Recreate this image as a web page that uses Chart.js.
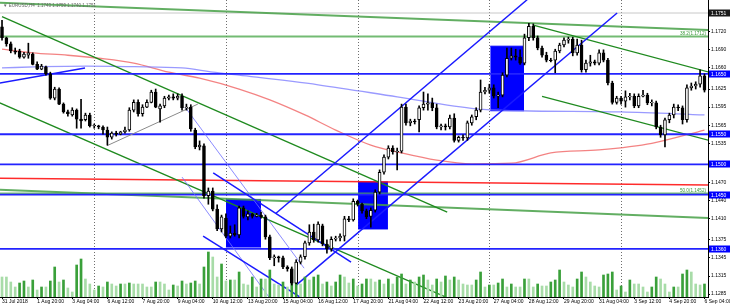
<!DOCTYPE html>
<html>
<head>
<meta charset="utf-8">
<script src="https://cdn.jsdelivr.net/npm/chart.js@4.4.0/dist/chart.umd.min.js"></script>
<style>
  html, body { margin: 0; padding: 0; background: #fff; }
</style>
</head>
<body>
<canvas id="chart" width="730" height="306"></canvas>
<script>
// EURUSD H4, 31 Jul 2018 12:00 -> 6 Sep 2018 04:00 (bar index 0..160)
const timeLabels = ["31 Jul 2018", "1 Aug 20:00", "3 Aug 04:00", "6 Aug 12:00", "7 Aug 20:00",
  "9 Aug 04:00", "10 Aug 12:00", "13 Aug 20:00", "15 Aug 04:00", "16 Aug 12:00", "17 Aug 20:00",
  "21 Aug 04:00", "22 Aug 12:00", "23 Aug 20:00", "27 Aug 04:00", "28 Aug 12:00", "29 Aug 20:00",
  "31 Aug 04:00", "3 Sep 12:00", "4 Sep 20:00", "6 Sep 04:00"];
const labelStep = 8;

const opens = [1.1728,1.1710,1.1700,1.1688,1.1688,1.1678,1.1681,1.1683,1.1666,1.1658,
  1.1662,1.1650,1.1610,1.1625,1.1600,1.1587,1.1582,1.1590,1.1575,1.1574,
  1.1582,1.1564,1.1564,1.1562,1.1557,1.1545,1.1552,1.1550,1.1554,1.1557,
  1.1590,1.1603,1.1584,1.1595,1.1603,1.1620,1.1592,1.1597,1.1610,1.1612,
  1.1610,1.1613,1.1594,1.1595,1.1557,1.1529,1.1531,1.1448,1.1456,1.1426,
  1.1393,1.1411,1.1381,1.1386,1.1383,1.1428,1.1413,1.1418,1.1414,1.1416,
  1.1413,1.1380,1.1345,1.1347,1.1345,1.1330,1.1327,1.1303,1.1338,1.1347,
  1.1370,1.1388,1.1375,1.1398,1.1368,1.1360,1.1376,1.1378,1.1381,1.1410,
  1.1408,1.1439,1.1434,1.1423,1.1414,1.1424,1.1454,1.1487,1.1512,1.1527,
  1.1521,1.1522,1.1595,1.1569,1.1572,1.1574,1.1594,1.1600,1.1602,1.1594,
  1.1562,1.1564,1.1562,1.1577,1.1540,1.1545,1.1544,1.1569,1.1579,1.1590,
  1.1620,1.1623,1.1627,1.1613,1.1615,1.1648,1.1676,1.1680,1.1678,1.1668,
  1.1710,1.1729,1.1710,1.1693,1.1681,1.1673,1.1673,1.1688,1.1698,1.1706,
  1.1708,1.1685,1.1698,1.1657,1.1668,1.1670,1.1668,1.1685,1.1673,1.1635,
  1.1603,1.1610,1.1605,1.1612,1.1613,1.1597,1.1613,1.1615,1.1602,1.1602,
  1.1562,1.1549,1.1574,1.1582,1.1595,1.1594,1.1574,1.1627,1.1630,1.1633,
  1.1647];
const highs = [1.1739,1.1711,1.1703,1.1693,1.1691,1.1686,1.1701,1.1685,1.1670,1.1666,
  1.1663,1.1653,1.1628,1.1627,1.1602,1.1590,1.1594,1.1592,1.1608,1.1585,
  1.1585,1.1567,1.1565,1.1564,1.1562,1.1554,1.1555,1.1555,1.1562,1.1594,
  1.1607,1.1607,1.1599,1.1607,1.1623,1.1625,1.1600,1.1613,1.1615,1.1617,
  1.1617,1.1617,1.1600,1.1599,1.1560,1.1539,1.1534,1.1461,1.1461,1.1433,
  1.1416,1.1418,1.1398,1.1400,1.1431,1.1431,1.1423,1.1419,1.1419,1.1421,
  1.1416,1.1383,1.1350,1.1348,1.1348,1.1332,1.1330,1.1342,1.1350,1.1373,
  1.1400,1.1401,1.1405,1.1401,1.1375,1.1380,1.1381,1.1385,1.1414,1.1414,
  1.1443,1.1441,1.1436,1.1426,1.1428,1.1458,1.1491,1.1516,1.1531,1.1531,
  1.1527,1.1600,1.1600,1.1575,1.1575,1.1597,1.1620,1.1617,1.1610,1.1600,
  1.1567,1.1567,1.1582,1.1584,1.1547,1.1549,1.1572,1.1582,1.1594,1.1640,
  1.1628,1.1633,1.1632,1.1620,1.1652,1.1693,1.1693,1.1691,1.1690,1.1716,
  1.1734,1.1733,1.1713,1.1696,1.1686,1.1676,1.1691,1.1701,1.1710,1.1711,
  1.1711,1.1708,1.1706,1.1673,1.1681,1.1673,1.1690,1.1690,1.1676,1.1638,
  1.1613,1.1613,1.1622,1.1618,1.1617,1.1617,1.1623,1.1618,1.1607,1.1605,
  1.1565,1.1577,1.1585,1.1600,1.1599,1.1597,1.1632,1.1635,1.1637,1.1657,
  1.1650];
const lows = [1.1706,1.1696,1.1685,1.1683,1.1676,1.1676,1.1676,1.1665,1.1657,1.1657,
  1.1648,1.1608,1.1607,1.1599,1.1585,1.1580,1.1580,1.1560,1.1560,1.1572,
  1.1562,1.1560,1.1559,1.1550,1.1532,1.1542,1.1547,1.1549,1.1552,1.1555,
  1.1587,1.1580,1.1580,1.1594,1.1602,1.1594,1.1570,1.1594,1.1607,1.1607,
  1.1607,1.1590,1.1590,1.1555,1.1526,1.1524,1.1444,1.1434,1.1423,1.1390,
  1.1388,1.1378,1.1378,1.1381,1.1378,1.1411,1.1408,1.1411,1.1413,1.1411,
  1.1376,1.1342,1.1332,1.1338,1.1327,1.1323,1.1300,1.1302,1.1335,1.1343,
  1.1366,1.1371,1.1371,1.1365,1.1353,1.1356,1.1373,1.1373,1.1373,1.1405,
  1.1406,1.1431,1.1419,1.1410,1.1396,1.1421,1.1451,1.1484,1.1509,1.1517,
  1.1491,1.1519,1.1565,1.1564,1.1567,1.1554,1.1590,1.1590,1.1589,1.1559,
  1.1557,1.1557,1.1559,1.1537,1.1537,1.1540,1.1540,1.1565,1.1574,1.1587,
  1.1617,1.1618,1.1610,1.1594,1.1612,1.1645,1.1673,1.1673,1.1666,1.1665,
  1.1705,1.1706,1.1690,1.1678,1.1670,1.1670,1.1652,1.1685,1.1695,1.1701,
  1.1680,1.1681,1.1653,1.1653,1.1663,1.1665,1.1665,1.1670,1.1632,1.1600,
  1.1600,1.1600,1.1595,1.1607,1.1594,1.1594,1.1612,1.1599,1.1597,1.1559,
  1.1545,1.1529,1.1569,1.1577,1.1589,1.1567,1.1570,1.1623,1.1625,1.1628,
  1.1620];
const closes = [1.1710,1.1700,1.1688,1.1686,1.1678,1.1683,1.1685,1.1666,1.1658,1.1663,
  1.1650,1.1610,1.1625,1.1600,1.1587,1.1584,1.1590,1.1575,1.1572,1.1582,
  1.1564,1.1565,1.1562,1.1557,1.1545,1.1552,1.1550,1.1554,1.1557,1.1590,
  1.1603,1.1584,1.1595,1.1603,1.1620,1.1595,1.1597,1.1610,1.1612,1.1610,
  1.1613,1.1594,1.1595,1.1559,1.1529,1.1532,1.1448,1.1456,1.1426,1.1393,
  1.1413,1.1381,1.1386,1.1383,1.1428,1.1414,1.1418,1.1414,1.1416,1.1413,
  1.1380,1.1345,1.1347,1.1345,1.1330,1.1327,1.1303,1.1338,1.1347,1.1370,
  1.1388,1.1375,1.1401,1.1368,1.1360,1.1376,1.1378,1.1381,1.1410,1.1408,
  1.1439,1.1434,1.1423,1.1413,1.1424,1.1454,1.1487,1.1512,1.1527,1.1521,
  1.1522,1.1595,1.1569,1.1572,1.1571,1.1594,1.1600,1.1602,1.1594,1.1562,
  1.1564,1.1562,1.1577,1.1540,1.1545,1.1544,1.1569,1.1579,1.1590,1.1620,
  1.1623,1.1627,1.1613,1.1615,1.1648,1.1676,1.1680,1.1678,1.1668,1.1710,
  1.1729,1.1710,1.1693,1.1681,1.1673,1.1672,1.1688,1.1698,1.1706,1.1708,
  1.1685,1.1698,1.1657,1.1668,1.1670,1.1668,1.1685,1.1673,1.1635,1.1603,
  1.1610,1.1605,1.1612,1.1613,1.1597,1.1613,1.1615,1.1602,1.1603,1.1562,
  1.1549,1.1574,1.1582,1.1595,1.1594,1.1574,1.1627,1.1630,1.1633,1.1647,
  1.1623];
const volumes = [8000,8000,6000,4000,5600,6400,4000,6800,2800,4000,
  4000,6400,12000,6000,6800,3600,2000,12800,15200,7200,
  5200,2800,4400,4000,6000,5200,4400,5200,5200,5600,
  5200,5200,5200,4000,4000,6000,6000,5200,2800,4800,
  4400,6400,5200,5600,6400,5200,12000,18000,16000,8000,
  13200,6400,6800,6800,10000,5200,4800,8000,4000,7200,
  7200,10800,5200,4800,6000,4000,8000,10800,5200,8000,
  6800,8000,8800,5200,6000,4400,6000,8800,8000,5600,
  7200,4400,5200,7200,7200,6000,6800,5200,7200,5200,
  8000,9200,5200,6800,6000,8000,8800,6800,4800,7200,
  6000,8400,6800,8000,6800,5200,4800,4800,6800,10000,
  4000,4800,4800,5600,7200,4000,5200,4000,4000,7200,
  7200,4000,5200,4400,4400,6000,6800,10800,6000,4800,
  4000,7200,10000,8000,6000,4400,4000,8800,9200,10000,
  2800,4400,2000,6800,5200,5200,4000,2000,4000,8000,
  7200,5200,2000,4000,4000,9200,10800,10000,5200,4800,
  5200];

// price axis
const yTicks = [1.1720, 1.1690, 1.1660, 1.1625, 1.1595, 1.1565, 1.1535, 1.1470,
  1.1440, 1.1410, 1.1375, 1.1345, 1.1315, 1.1285];
const bidPrice = 1.1751;
const levels = [1.1650, 1.1550, 1.1500, 1.1450, 1.1360];
const fiboLevels = [1.1712, 1.1452];
const fiboTexts = ["38.2(1.1712)", "50.0(1.1452)"];
const weekStarts = [21, 51, 81, 111, 141];
const title = "\u25BC EURUSD,H4  1.1743 1.1759 1.1740 1.1751";

// moving averages, read at selected bars
const maRed = [[0,1.1691],[7,1.1685],[15,1.1681],[22,1.1676],[30,1.1668],[38,1.1653],
  [45,1.1643],[54,1.1625],[61,1.1607],[69,1.1582],[76,1.1557],[84,1.1532],[91,1.1519],
  [99,1.1507],[107,1.1501],[116,1.1502],[125,1.1519],[136,1.1524],[148,1.1535],[160,1.1557]];
const maBlue = [[0,1.1660],[9,1.1662],[19,1.1663],[30,1.1662],[41,1.1660],[48,1.1653],
  [54,1.1648],[72,1.1632],[90,1.1612],[108,1.1592],[118,1.1589],[141,1.1587],[160,1.1582]];

// drawn objects, endpoints as [bar, price]
const greenWide = [
  [[-0.5,1.1768],[161,1.1723]],
  [[-0.5,1.1458],[161,1.1411]]
];
const greenThin = [
  [[0,1.1745],[101.4,1.1421]],
  [[-0.5,1.1602],[101.1,1.1280]],
  [[121,1.1731],[161,1.1653]],
  [[123,1.1613],[161,1.1540]]
];
const redLine = [[-0.5,1.1477],[161,1.1466]];
const blueLines = [
  [[-0.5,1.1635],[18.9,1.1660]],
  [[62.4,1.1419],[119.6,1.1773]],
  [[67,1.1300],[140.1,1.1751]],
  [[48.1,1.1486],[79.5,1.1338]],
  [[45.8,1.1381],[67.9,1.1280]]
];
const lightBlueLines = [
  [[41.7,1.1595],[68.8,1.1328]],
  [[41,1.1479],[60.8,1.1280]]
];
const greyLine = [[23.9,1.1531],[44.6,1.1600]];
// rectangles: [barFrom, barTo, priceLow, priceHigh]
const boxes = [[51, 59, 1.1363, 1.1442], [81.1, 87.9, 1.1393, 1.1471], [111.2, 118.9, 1.1589, 1.1696]];

const X_MIN = -0.46, X_MAX = 160.8;
const Y_MIN = 1.12802, Y_MAX = 1.17726;
const FONT = "Liberation Sans, Arial, sans-serif";

function seg(points, color, width, order, extra) {
  return Object.assign({
    type: "line",
    data: points.map(([x, y]) => ({ x, y })),
    borderColor: color,
    borderWidth: width,
    pointRadius: 0,
    fill: false,
    tension: 0,
    order: order,
    yAxisID: "y",
  }, extra || {});
}

const datasets = [];

// rectangles (fill between top and bottom edge)
boxes.forEach(([x0, x1, lo, hi]) => {
  datasets.push(seg([[x0, hi], [x1, hi]], "#0000ff", 1, 200, { fill: "+1", backgroundColor: "#0000ff" }));
  datasets.push(seg([[x0, lo], [x1, lo]], "#0000ff", 1, 199));
});

datasets.push(seg([[X_MIN, bidPrice], [X_MAX, bidPrice]], "#c8c8c8", 1, 150));
datasets.push(seg(maBlue, "rgba(120,120,255,0.75)", 1.3, 140, { cubicInterpolationMode: "monotone" }));
datasets.push(seg(maRed, "rgba(240,100,100,0.8)", 1.3, 140, { cubicInterpolationMode: "monotone" }));
datasets.push(seg(redLine, "rgba(255,20,20,0.9)", 1.5, 130));
fiboLevels.forEach(v => datasets.push(seg([[X_MIN, v], [X_MAX, v]], "rgba(80,170,80,0.8)", 2, 130)));
greenWide.forEach(l => datasets.push(seg(l, "rgba(70,160,70,0.85)", 2, 130)));
greenThin.forEach(l => datasets.push(seg(l, "#1f8a1f", 1.3, 125)));
levels.forEach(v => datasets.push(seg([[X_MIN, v], [X_MAX, v]], "#2323ff", 1.8, 120)));
blueLines.forEach(l => datasets.push(seg(l, "#1a1aff", 1.5, 118)));
lightBlueLines.forEach(l => datasets.push(seg(l, "rgba(110,110,255,0.8)", 1, 118)));
datasets.push(seg(greyLine, "#8a8a8a", 1, 118));

// volumes
datasets.push({
  type: "bar",
  yAxisID: "yv",
  data: volumes.map((v, i) => ({ x: i, y: v })),
  backgroundColor: volumes.map((v, i) => (i > 0 && v > volumes[i - 1]) ? "#3aa03a" : "#a8dca8"),
  barThickness: 2,
  grouped: false,
  order: 110,
});

// candle wicks and bodies
datasets.push({
  type: "bar",
  yAxisID: "y",
  data: closes.map((c, i) => ({ x: i, y: [lows[i], highs[i]] })),
  backgroundColor: "#000",
  barThickness: 1,
  grouped: false,
  order: 20,
});
datasets.push({
  type: "bar",
  yAxisID: "y",
  data: closes.map((c, i) => ({ x: i, y: [opens[i], c] })),
  backgroundColor: closes.map((c, i) => c >= opens[i] ? "#ffffff" : "#000000"),
  borderColor: "#000",
  borderWidth: 1,
  borderSkipped: false,
  barThickness: 3,
  grouped: false,
  order: 10,
});

// separators, title, price boxes, fibo texts
const overlay = {
  id: "overlay",
  beforeDatasetsDraw(chart) {
    const { ctx, chartArea, scales } = chart;
    ctx.save();
    ctx.strokeStyle = "#6e6e6e";
    ctx.lineWidth = 1;
    ctx.setLineDash([1, 2]);
    weekStarts.forEach(b => {
      const px = Math.round(scales.x.getPixelForValue(b)) + 0.5;
      ctx.beginPath();
      ctx.moveTo(px, chartArea.top);
      ctx.lineTo(px, chartArea.bottom);
      ctx.stroke();
    });
    ctx.restore();
  },
  afterDraw(chart) {
    const { ctx, chartArea, scales } = chart;
    const y = scales.y;
    ctx.save();
    ctx.font = "4.6px " + FONT;
    ctx.fillStyle = "#3a9a3a";
    ctx.textAlign = "right";
    ctx.textBaseline = "alphabetic";
    fiboLevels.forEach((v, k) => {
      ctx.fillText(fiboTexts[k], chartArea.right - 2, y.getPixelForValue(v) - 1.5);
    });

    ctx.textAlign = "left";
    ctx.textBaseline = "middle";
    ctx.font = "5px " + FONT;
    const drawBox = (v, bg) => {
      const py = Math.round(y.getPixelForValue(v));
      ctx.fillStyle = bg;
      ctx.fillRect(chartArea.right + 1, py - 3.5, 21, 7);
      ctx.fillStyle = "#fff";
      ctx.fillText(v.toFixed(4), chartArea.right + 3, py + 0.5);
    };
    levels.forEach(v => drawBox(v, "#0000ff"));
    drawBox(bidPrice, "#1a1a1a");

    ctx.font = "4.5px " + FONT;
    ctx.fillStyle = "#666";
    ctx.textBaseline = "alphabetic";
    ctx.fillText(title, 3, 7);
    ctx.restore();
  },
};

new Chart(document.getElementById("chart"), {
  type: "bar",
  data: { datasets },
  options: {
    responsive: false,
    animation: false,
    layout: { padding: 0 },
    plugins: { legend: { display: false }, tooltip: { enabled: false } },
    scales: {
      x: {
        type: "linear",
        min: X_MIN,
        max: X_MAX,
        offset: false,
        afterBuildTicks: (s) => { s.ticks = timeLabels.map((t, k) => ({ value: k * labelStep })); },
        afterFit: (s) => { s.height = 9; s.paddingLeft = 0; s.paddingRight = 0; },
        ticks: {
          autoSkip: false,
          maxRotation: 0,
          align: "start",
          padding: 0,
          color: "#000",
          font: { family: FONT, size: 5 },
          callback: (v) => timeLabels[Math.round(v / labelStep)],
        },
        grid: { drawOnChartArea: false, offset: false, tickLength: 2, color: "#000" },
        border: { color: "#000" },
      },
      y: {
        type: "linear",
        position: "right",
        min: Y_MIN,
        max: Y_MAX,
        afterBuildTicks: (s) => { s.ticks = yTicks.map(v => ({ value: v })); },
        afterFit: (s) => { s.width = 22; s.paddingTop = 0; s.paddingBottom = 0; },
        ticks: {
          padding: 1,
          color: "#000",
          font: { family: FONT, size: 5 },
          callback: (v) => v.toFixed(4),
        },
        grid: { drawOnChartArea: false, tickLength: 2, color: "#000" },
        border: { color: "#000" },
      },
      yv: {
        type: "linear",
        display: false,
        min: 0,
        max: 118800,
      },
    },
  },
  plugins: [overlay],
});
</script>
</body>
</html>
